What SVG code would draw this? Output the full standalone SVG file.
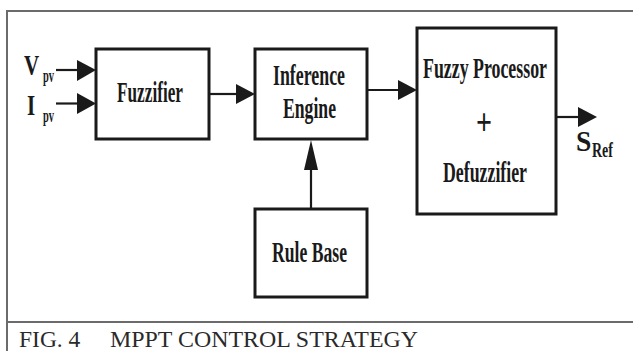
<svg xmlns="http://www.w3.org/2000/svg" width="633" height="351" viewBox="0 0 633 351">
<style>
.frame{fill:none;stroke:#6b6b6b;stroke-width:2}
.box{fill:#fff;stroke:#1a1a1a;stroke-width:3}
.lbl{font-family:"Liberation Serif","Times New Roman",serif;font-weight:bold;fill:#1a1a1a;font-size:28.5px}
.io{font-family:"Liberation Serif","Times New Roman",serif;font-weight:bold;fill:#1a1a1a}
.cap{font-family:"Liberation Serif","Times New Roman",serif;fill:#2a2a2a;font-size:23.5px}
.ln{stroke:#1a1a1a;stroke-width:2.2;fill:none}
.hd{fill:#1a1a1a}
</style>
<rect width="633" height="351" fill="#fff"/>
<g id="frame">
<path class="frame" d="M7,351 V11 H633 M7,322 H633"/>
</g>
<g id="fuzzifier">
<rect class="box" x="96" y="49" width="113" height="90"/>
<text class="lbl" x="117" y="102" textLength="66" lengthAdjust="spacingAndGlyphs">Fuzzifier</text>
</g>
<g id="inference">
<rect class="box" x="255" y="49" width="112" height="90"/>
<text class="lbl" x="273" y="85" textLength="72" lengthAdjust="spacingAndGlyphs">Inference</text>
<text class="lbl" x="283" y="118" textLength="53" lengthAdjust="spacingAndGlyphs">Engine</text>
</g>
<g id="processor">
<rect class="box" x="417" y="28" width="139" height="186"/>
<text class="lbl" x="423" y="78" textLength="124" lengthAdjust="spacingAndGlyphs">Fuzzy Processor</text>
<text class="io" x="476" y="135" font-size="38" font-weight="normal" textLength="16" lengthAdjust="spacingAndGlyphs">+</text>
<text class="lbl" x="443" y="182" textLength="84" lengthAdjust="spacingAndGlyphs">Defuzzifier</text>
</g>
<g id="rulebase">
<rect class="box" x="255" y="209" width="112" height="88"/>
<text class="lbl" x="272" y="262" textLength="75" lengthAdjust="spacingAndGlyphs">Rule Base</text>
</g>
<g id="labels">
<text class="io" font-size="30" transform="translate(24,75) scale(0.7,1)">V</text>
<text class="io" font-size="19" transform="translate(43,82) scale(0.55,1)">pv</text>
<text class="io" font-size="30" transform="translate(27,115) scale(0.7,1)">I</text>
<text class="io" font-size="19" transform="translate(43,122) scale(0.55,1)">pv</text>
<text class="io" font-size="30" transform="translate(576,151) scale(0.92,1)">S</text>
<text class="io" font-size="20" transform="translate(592,157) scale(0.7,1)">Ref</text>
</g>
<g id="connectors">
<line class="ln" x1="56" y1="70" x2="80" y2="70"/>
<polygon class="hd" points="77,60 96,70 77,81"/>
<line class="ln" x1="56" y1="103.5" x2="80" y2="103.5"/>
<polygon class="hd" points="77,93 96,103.5 77,114"/>
<line class="ln" x1="209" y1="94" x2="239" y2="94"/>
<polygon class="hd" points="236,84 255,94 236,104"/>
<line class="ln" x1="367" y1="90" x2="401" y2="90"/>
<polygon class="hd" points="398,80 417,90 398,100"/>
<line class="ln" x1="556" y1="117" x2="581" y2="117"/>
<polygon class="hd" points="578,107 597,117 578,127"/>
<line class="ln" x1="311" y1="209" x2="311" y2="166"/>
<polygon class="hd" points="304,170 311,140 318,170"/>
</g>
<g id="caption">
<text class="cap" x="19" y="347">FIG. 4</text>
<text class="cap" x="110" y="347" textLength="308" lengthAdjust="spacingAndGlyphs">MPPT CONTROL STRATEGY</text>
</g>
</svg>
